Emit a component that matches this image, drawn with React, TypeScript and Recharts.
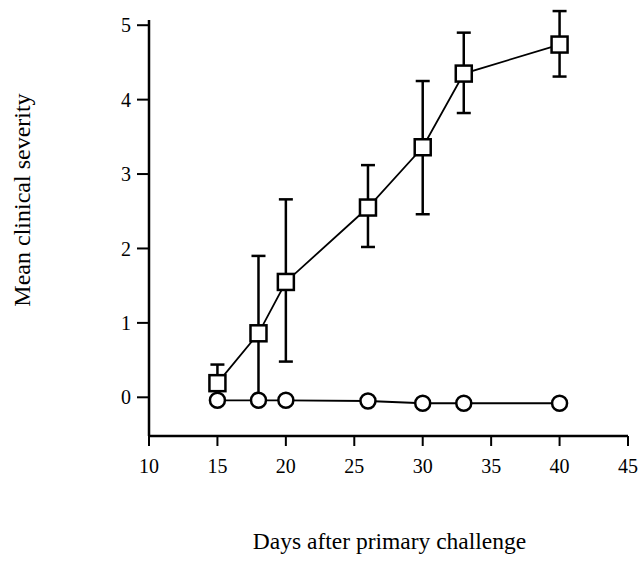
import React from 'react';
import { LineChart, Line, XAxis, YAxis, ErrorBar, Label } from 'recharts';

const days = [15, 18, 20, 26, 30, 33, 40];
const primedMean = [0.19, 0.86, 1.55, 2.55, 3.36, 4.35, 4.74];
const primedErr: [number, number][] = [
  [0.25, 0.25],
  [0.86, 1.04],
  [1.07, 1.11],
  [0.53, 0.57],
  [0.9, 0.89],
  [0.53, 0.55],
  [0.43, 0.45],
];
const controlMean = [-0.04, -0.04, -0.04, -0.05, -0.08, -0.08, -0.08];

const xTicks = [10, 15, 20, 25, 30, 35, 40, 45];
const yTicks = [0, 1, 2, 3, 4, 5];

const data = days.map((d, i) => ({
  day: d,
  primed: primedMean[i],
  primedErr: primedErr[i],
  control: controlMean[i],
}));

const FONT = '"Liberation Serif", "Times New Roman", serif';

const SquareDot = (props: any) => {
  const { cx, cy, index } = props;
  if (cx == null || cy == null) return null;
  return (
    <rect
      key={`sq-${index}`}
      x={cx - 8}
      y={cy - 8}
      width={16}
      height={16}
      fill="#fff"
      stroke="#000"
      strokeWidth={2.5}
    />
  );
};

const CircleDot = (props: any) => {
  const { cx, cy, index } = props;
  if (cx == null || cy == null) return null;
  return (
    <circle key={`ci-${index}`} cx={cx} cy={cy} r={7.5} fill="#fff" stroke="#000" strokeWidth={2.5} />
  );
};

const XLabel = (props: any) => {
  const vb = props.viewBox || {};
  const cx = vb.x + vb.width / 2 + 1;
  return (
    <text x={cx} y={549} textAnchor="middle" fontFamily={FONT} fontSize={23.5} fill="#000">
      Days after primary challenge
    </text>
  );
};

const YLabel = () => {
  const x = 30;
  const y = 200;
  return (
    <text
      x={x}
      y={y}
      transform={`rotate(-90 ${x} ${y})`}
      textAnchor="middle"
      fontFamily={FONT}
      fontSize={24}
      fill="#000"
    >
      Mean clinical severity
    </text>
  );
};

export default function App() {
  return (
    <div style={{ position: 'absolute', left: 0, top: 0, background: '#fff' }}>
      <LineChart
        width={642}
        height={563}
        data={data}
        margin={{ top: 20, right: 14, bottom: 87, left: 89 }}
      >
        <XAxis
          type="number"
          dataKey="day"
          domain={[10, 45]}
          ticks={xTicks}
          allowDataOverflow
          height={40}
          axisLine={{ stroke: '#000', strokeWidth: 2.5 }}
          tickLine={{ stroke: '#000', strokeWidth: 2 }}
          tickSize={10}
          tickMargin={13}
          tick={{ fontSize: 20, fill: '#000', fontFamily: FONT }}
        >
          <Label content={<XLabel />} />
        </XAxis>
        <YAxis
          type="number"
          domain={[-0.52, 5.07]}
          ticks={yTicks}
          allowDataOverflow
          width={60}
          axisLine={{ stroke: '#000', strokeWidth: 2.5 }}
          tickLine={{ stroke: '#000', strokeWidth: 2 }}
          tickSize={12}
          tickMargin={6}
          tick={{ fontSize: 20, fill: '#000', fontFamily: FONT }}
        >
          <Label content={<YLabel />} />
        </YAxis>
        <Line
          dataKey="primed"
          stroke="#000"
          strokeWidth={1.8}
          isAnimationActive={false}
          dot={<SquareDot />}
          activeDot={false}
        >
          <ErrorBar dataKey="primedErr" width={7} stroke="#000" strokeWidth={2.5} direction="y" />
        </Line>
        <Line
          dataKey="control"
          stroke="#000"
          strokeWidth={1.8}
          isAnimationActive={false}
          dot={<CircleDot />}
          activeDot={false}
        />
      </LineChart>
    </div>
  );
}
